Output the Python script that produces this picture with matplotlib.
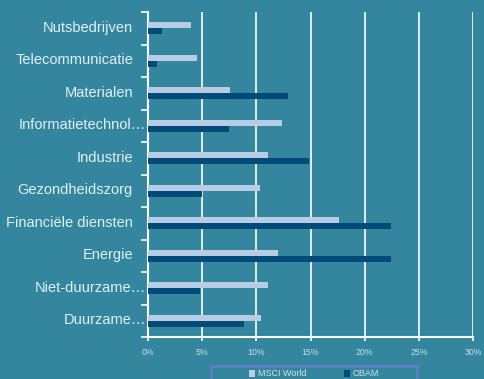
import numpy as np
import matplotlib
matplotlib.use("Agg")
import matplotlib.pyplot as plt
from matplotlib.patches import Rectangle
from matplotlib.ticker import FixedLocator, PercentFormatter

# sector data, top to bottom as shown in chart
sectors = ["Nutsbedrijven", "Telecommunicatie", "Materialen", "Informatietechnol\u2026",
           "Industrie", "Gezondheidszorg", "Financi\u00eble diensten", "Energie",
           "Niet-duurzame\u2026", "Duurzame\u2026"]
msci_world = [4.0, 4.5, 7.6, 12.4, 11.1, 10.3, 17.6, 12.0, 11.1, 10.4]
obam = [1.3, 0.8, 12.9, 7.5, 14.9, 5.0, 22.4, 22.4, 4.8, 8.9]
x_ticks = [0, 5, 10, 15, 20, 25, 30]

bg = "#33869e"
light = "#b8cce4"
dark = "#004a7a"
txt = "#e2f0f5"

plt.rcParams["font.family"] = ["Liberation Sans", "DejaVu Sans"]

W, H = 484, 379
fig = plt.figure(figsize=(W / 100, H / 100), dpi=100, facecolor=bg)
ax = fig.add_axes([148 / W, 1 - 337 / H, 325 / W, 325 / H], facecolor=bg)

y = np.arange(len(sectors))
h = 0.19
ax.barh(y - h / 2, msci_world, height=h, color=light, label="MSCI World", zorder=3)
ax.barh(y + h / 2, obam, height=h, color=dark, label="OBAM", zorder=3)

ax.set_xlim(0, 30)
ax.set_ylim(len(sectors) - 0.5, -0.5)
ax.set_xticks(x_ticks)
ax.xaxis.set_major_formatter(PercentFormatter(decimals=0))
ax.grid(axis="x", color="white", lw=1.2, zorder=1)

# category labels drawn as text so the truncated ones can sit closer to the axis
ax.set_yticks(y)
ax.set_yticklabels([])
ax.tick_params(axis="y", which="major", length=0)
trans = ax.get_yaxis_transform()
for yi, name in zip(y, sectors):
    off = 2 if name.endswith("\u2026") else 15
    ax.text(-off / 325, yi - 0.02, name, transform=trans, ha="right", va="center",
            fontsize=10.5, color=txt)

ax.yaxis.set_minor_locator(FixedLocator(np.arange(-0.5, len(sectors), 1)))
ax.tick_params(axis="y", which="minor", length=5, width=1.2, color="white", direction="out")
ax.tick_params(axis="x", length=3, width=1.2, color="white", labelsize=6.3,
               labelcolor="#c8dde8", pad=5)

for s in ["top", "right"]:
    ax.spines[s].set_visible(False)
for s in ["left", "bottom"]:
    ax.spines[s].set_color("white")
    ax.spines[s].set_linewidth(1.5)

# legend frame runs off the bottom edge like the original
fig.patches.append(Rectangle((211 / W, -0.05), 206 / W, 0.05 + (H - 366) / H,
                             transform=fig.transFigure, facecolor=bg,
                             edgecolor="#5b80c4", lw=2))
leg = fig.legend(loc="center", bbox_to_anchor=(314 / W, 1 - 374 / H), ncol=2,
                 fontsize=6.5, frameon=False, handlelength=0.7, handleheight=0.7,
                 columnspacing=4.2, borderpad=0, handletextpad=0.3)
for t in leg.get_texts():
    t.set_color("#d0e2ec")

fig.savefig("out.png", dpi=100, facecolor=bg)
